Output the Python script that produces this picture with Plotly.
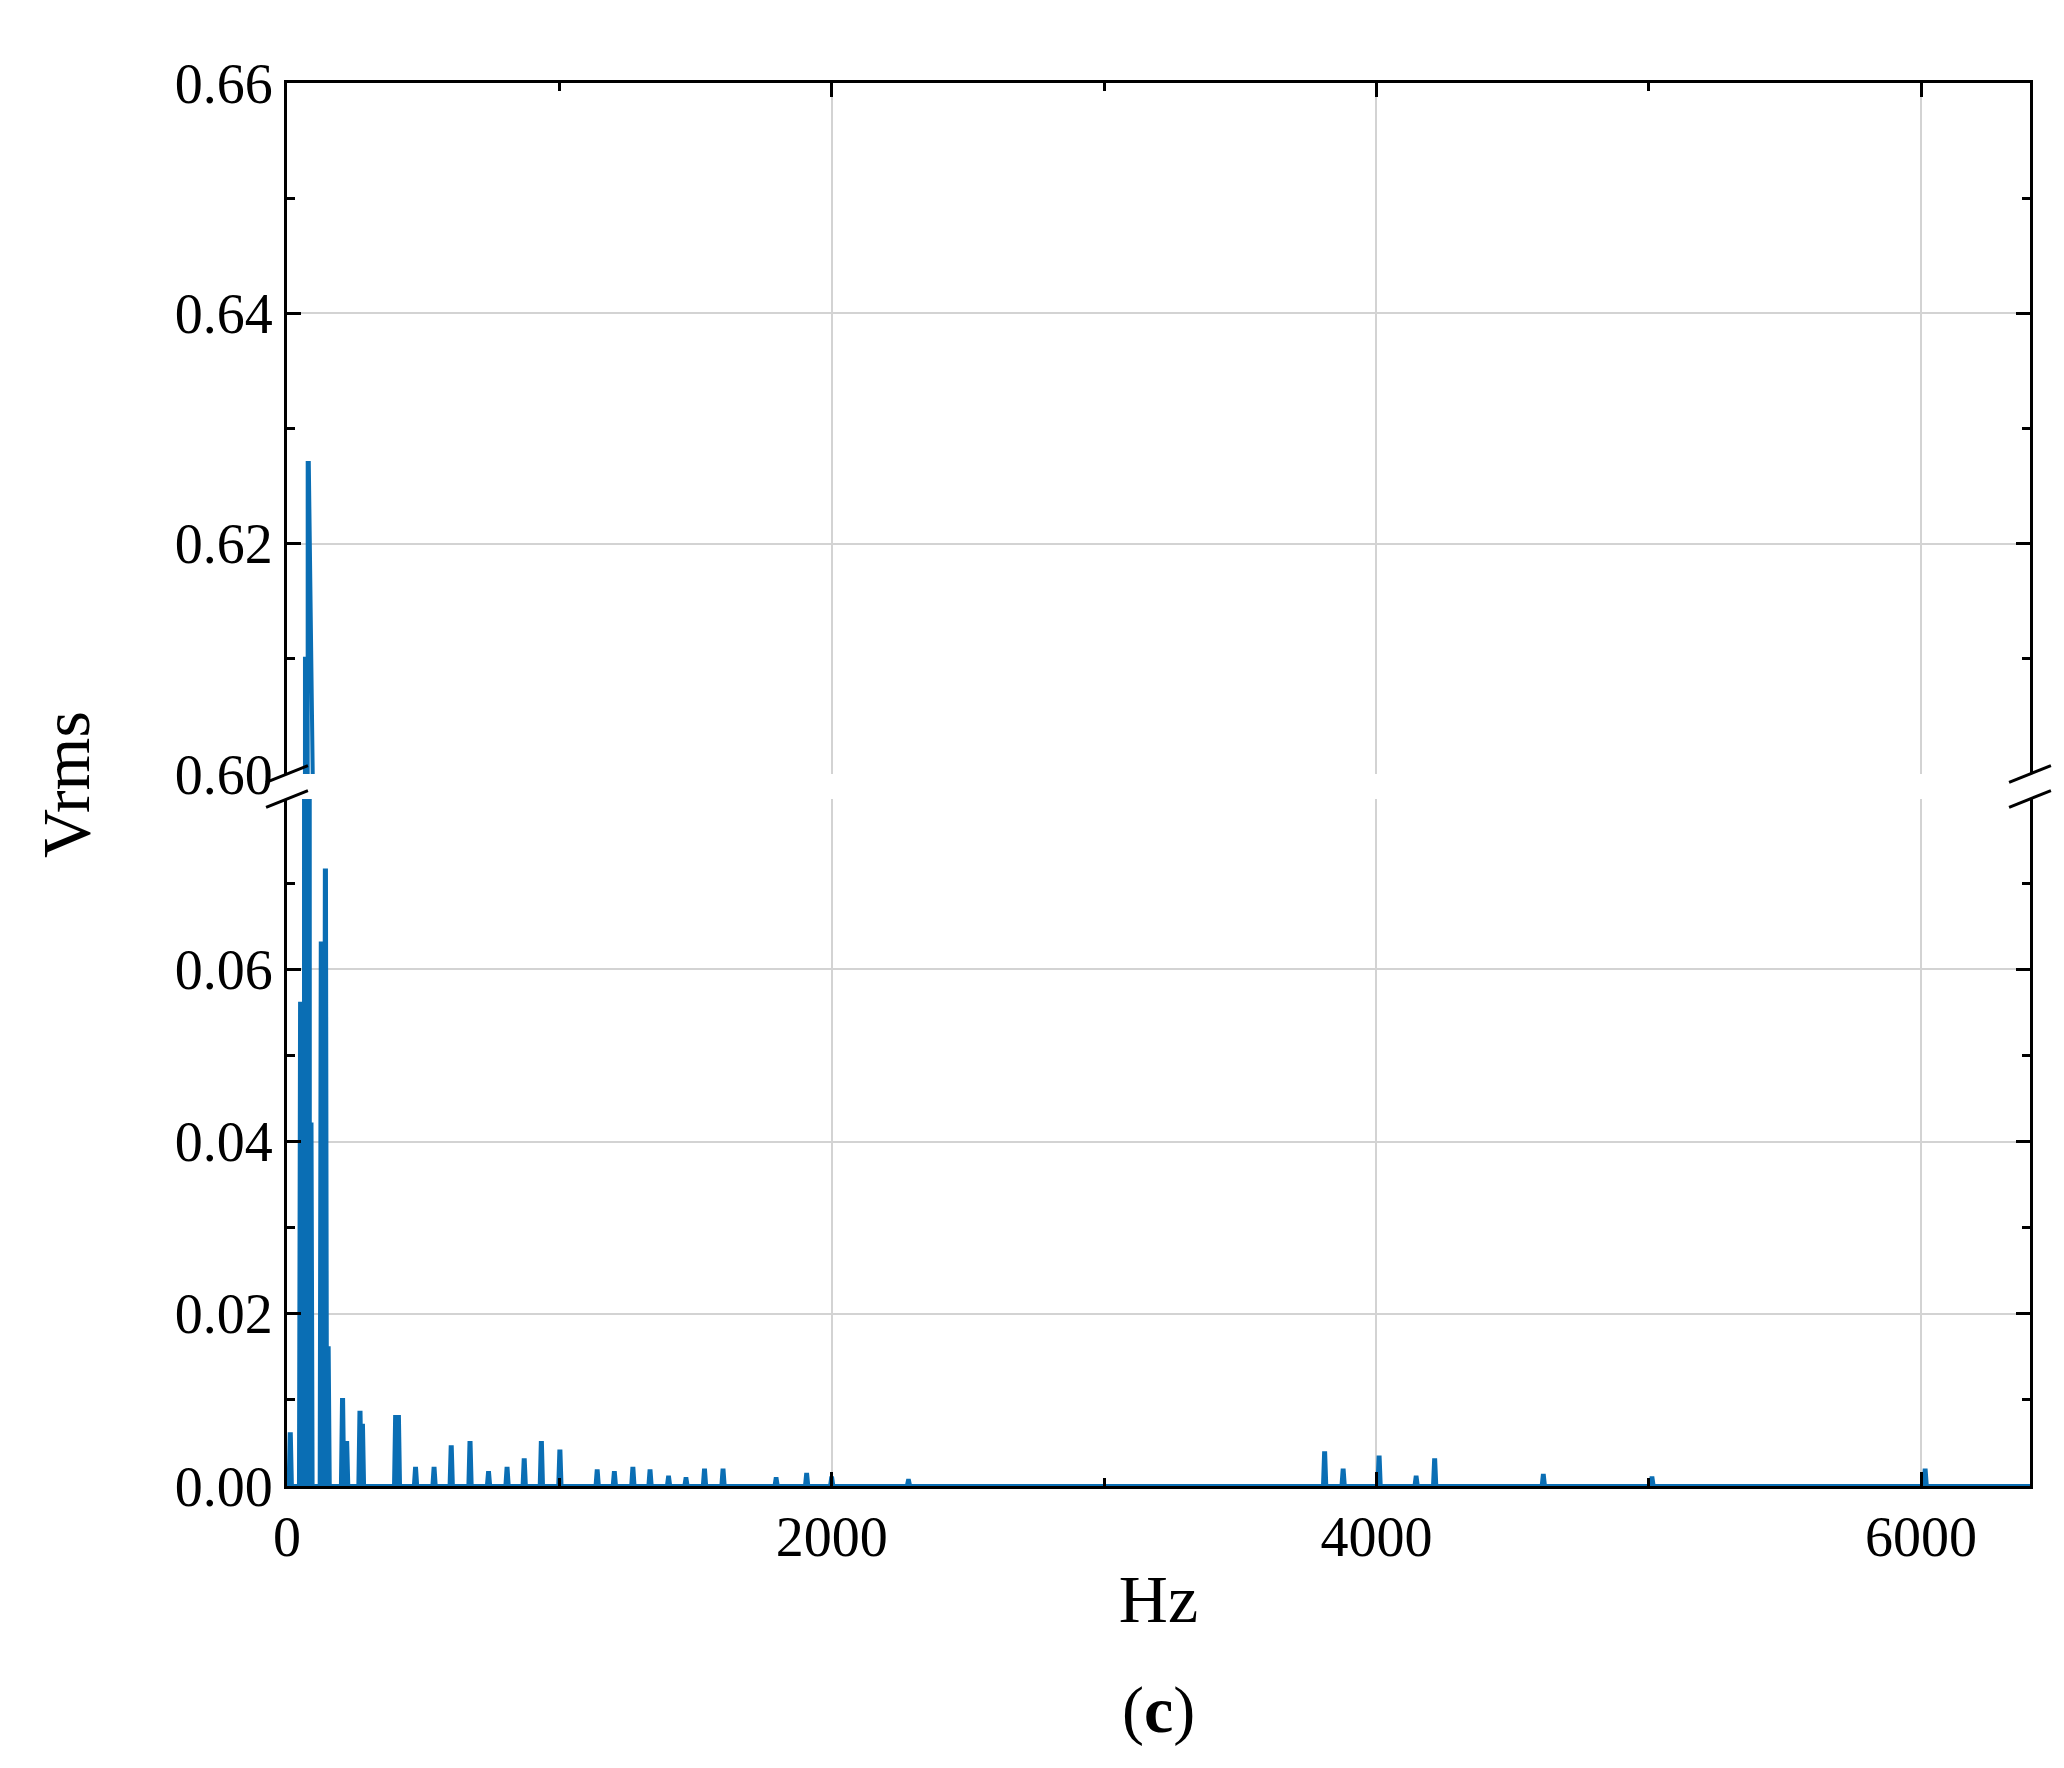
import plotly.graph_objects as go
from plotly.subplots import make_subplots

# spectral peaks: frequency (Hz) and Vrms
peak_hz = [12, 50, 68, 78, 88, 126, 141, 151, 204, 219, 268, 277, 399, 409, 472,
           540, 603, 672, 740, 808, 871, 934, 1002, 1139, 1202, 1270, 1333, 1401,
           1465, 1533, 1601, 1796, 1908, 2000, 2282, 3810, 3878, 4010, 4146, 4214,
           4613, 5012, 6015]
peak_v = [0.006, 0.056, 0.61, 0.627, 0.042, 0.063, 0.0715, 0.016, 0.010, 0.005,
          0.0085, 0.007, 0.008, 0.008, 0.002, 0.002, 0.0045, 0.005, 0.0015, 0.002,
          0.003, 0.005, 0.004, 0.0017, 0.0015, 0.002, 0.0017, 0.001, 0.0008, 0.0018,
          0.0018, 0.0008, 0.0013, 0.0009, 0.0006, 0.0038, 0.0018, 0.0033, 0.001,
          0.003, 0.0012, 0.0009, 0.0018]

xs, ys = [0], [0]
for f, v in zip(peak_hz, peak_v):
    xs += [f - 6, f - 2, f + 2, f + 6]
    ys += [0, v, v, 0]
xs.append(6400)
ys.append(0)

BLUE = "#0a6eb4"
FONT = "Liberation Serif"

fig = make_subplots(rows=2, cols=1, shared_xaxes=False, vertical_spacing=0.02)
for r in (1, 2):
    fig.add_trace(go.Scatter(x=xs, y=ys, mode="lines", line=dict(color=BLUE, width=4),
                             showlegend=False), row=r, col=1)

ax_common = dict(range=[0, 6400], dtick=2000, showgrid=True, gridcolor="#d3d3d3",
                 gridwidth=1.5, showline=True, linecolor="black", linewidth=3,
                 ticks="inside", ticklen=14, tickwidth=3, tickcolor="black",
                 minor=dict(ticks="inside", ticklen=8, tickwidth=3, dtick=1000,
                            tickcolor="black", showgrid=False),
                 zeroline=False)
fig.update_xaxes(**ax_common, side="top", showticklabels=False, row=1, col=1)
fig.update_xaxes(**ax_common, side="bottom", tickfont=dict(family=FONT, size=56, color="black"),
                 title=dict(text="Hz", font=dict(family=FONT, size=68, color="black"), standoff=8),
                 row=2, col=1)

ay_common = dict(showgrid=True, gridcolor="#d3d3d3", gridwidth=1.5, showline=True,
                 linecolor="black", linewidth=3, mirror="ticks", ticks="inside",
                 ticklen=14, tickwidth=3, tickcolor="black", zeroline=False,
                 tickfont=dict(family=FONT, size=56, color="black"))
fig.update_yaxes(**ay_common, range=[0.60, 0.66], dtick=0.02, tickformat=".2f",
                 minor=dict(ticks="inside", ticklen=8, tickwidth=3, dtick=0.01,
                            tickcolor="black", showgrid=False), row=1, col=1)
fig.update_yaxes(**ay_common, range=[0, 0.0798], tickvals=[0, 0.02, 0.04, 0.06],
                 tickformat=".2f",
                 minor=dict(ticks="inside", ticklen=8, tickwidth=3,
                            tickvals=[0.01, 0.03, 0.05, 0.07],
                            tickcolor="black", showgrid=False), row=2, col=1)

fig.update_layout(
    width=2064, height=1768, plot_bgcolor="white", paper_bgcolor="white",
    margin=dict(l=279, r=42, t=75, b=290),
    yaxis=dict(domain=[0.5075, 1.0]),
    yaxis2=dict(domain=[0.0, 0.4897]),
)

# axis break marks
for xp in (0.0, 1.0):
    for yp in (0.5075, 0.4897):
        fig.add_shape(type="line", xref="paper", yref="paper",
                      x0=xp - 0.012, x1=xp + 0.012, y0=yp - 0.006, y1=yp + 0.006,
                      line=dict(color="black", width=3))

fig.add_annotation(text="Vrms", xref="paper", yref="paper", x=-0.15, y=0.5,
                   textangle=-90, showarrow=False, font=dict(family=FONT, size=68, color="black"))
fig.add_annotation(text="(<b>c</b>)", xref="paper", yref="paper", x=0.5, y=-0.16,
                   yanchor="middle", showarrow=False, font=dict(family=FONT, size=66, color="black"))

fig.write_html("out.html")
